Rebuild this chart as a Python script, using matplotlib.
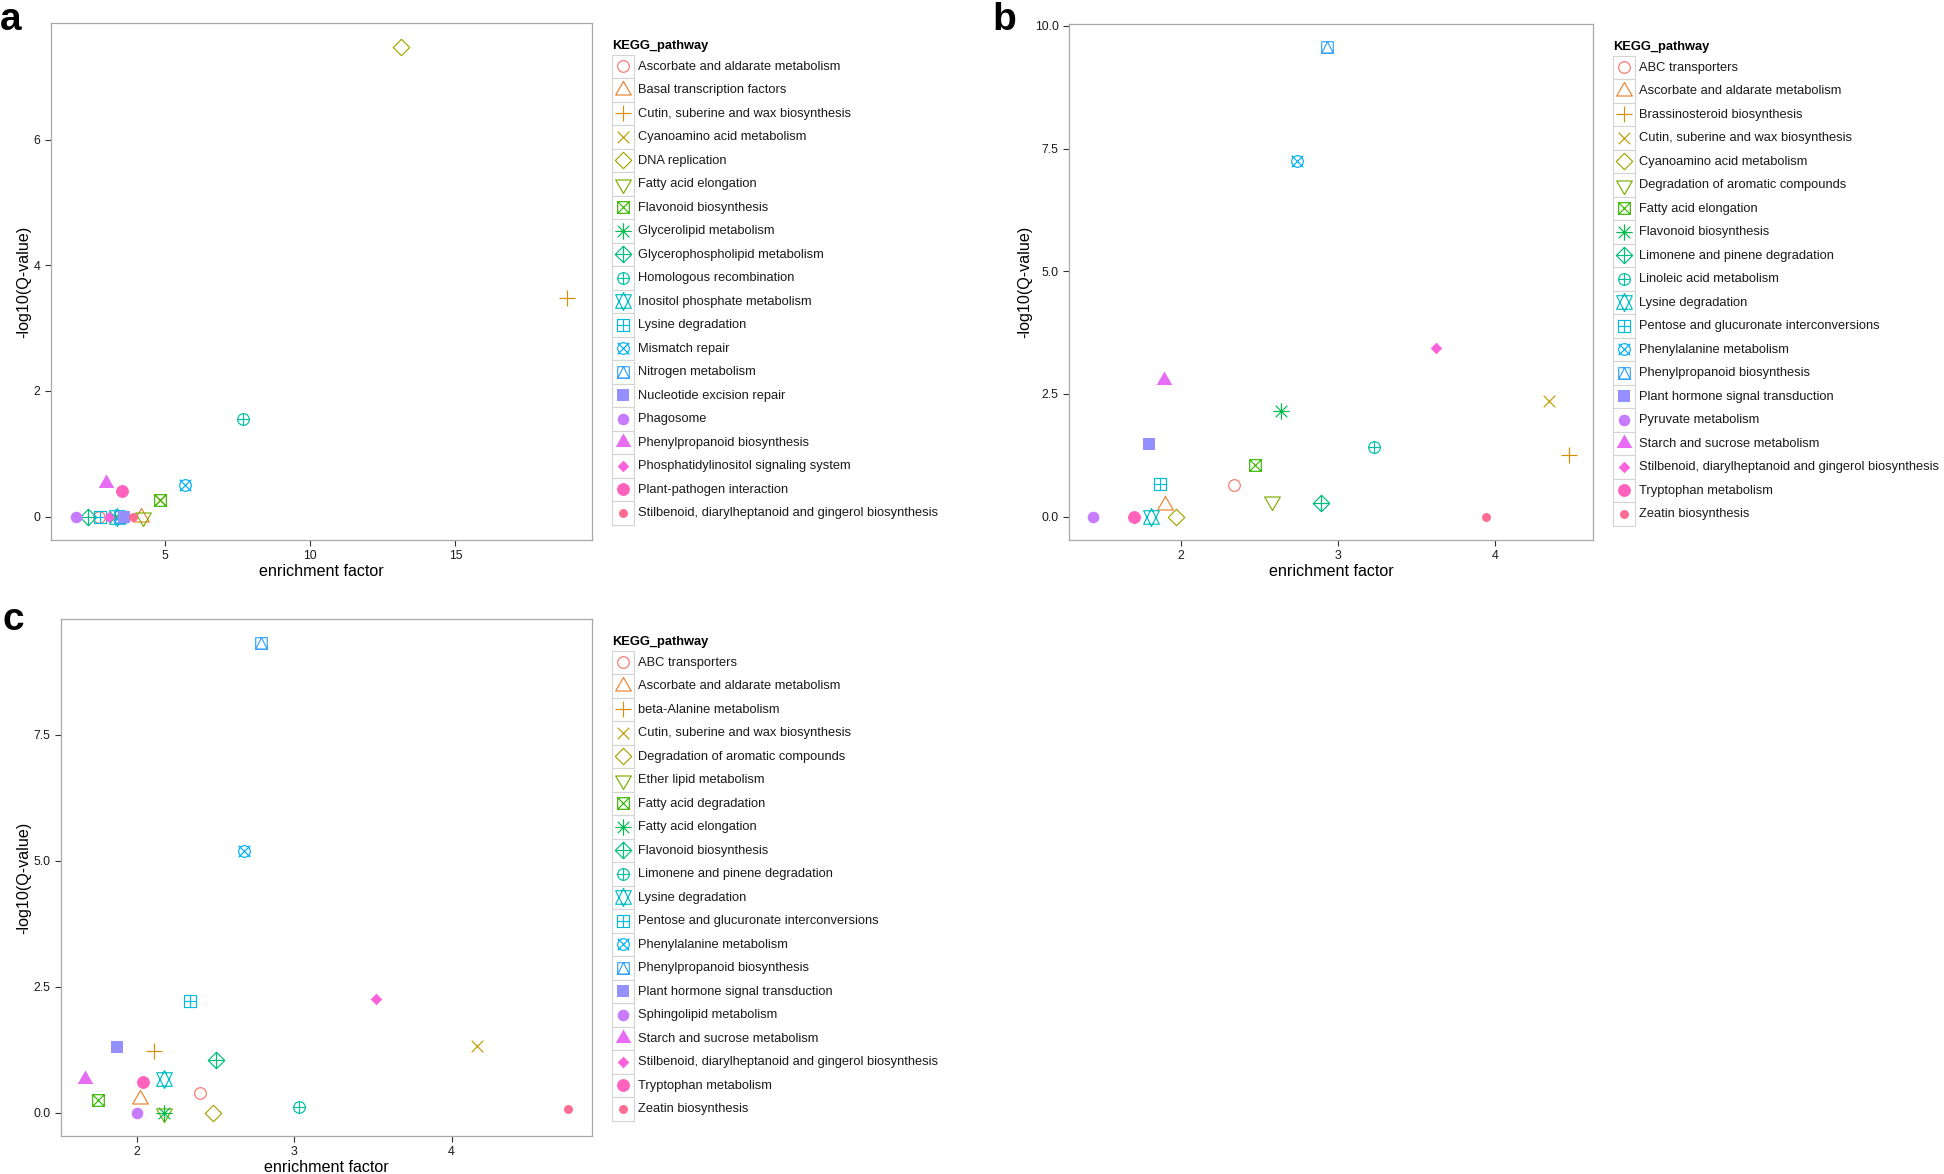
import numpy as np
import matplotlib
matplotlib.use("Agg")
import matplotlib.pyplot as plt
from matplotlib.path import Path
from matplotlib.patches import Rectangle

plt.rcParams['font.family'] = ['Liberation Sans', 'DejaVu Sans']

# ---------------- data ----------------
names_a = ["Ascorbate and aldarate metabolism", "Basal transcription factors",
           "Cutin, suberine and wax biosynthesis", "Cyanoamino acid metabolism",
           "DNA replication", "Fatty acid elongation", "Flavonoid biosynthesis",
           "Glycerolipid metabolism", "Glycerophospholipid metabolism",
           "Homologous recombination", "Inositol phosphate metabolism",
           "Lysine degradation", "Mismatch repair", "Nitrogen metabolism",
           "Nucleotide excision repair", "Phagosome", "Phenylpropanoid biosynthesis",
           "Phosphatidylinositol signaling system", "Plant-pathogen interaction",
           "Stilbenoid, diarylheptanoid and gingerol biosynthesis"]
ef_a = [2.73, 4.20, 18.85, 4.85, 13.12, 4.26, 4.83, 3.30, 2.37, 7.71,
        3.36, 2.78, 5.71, 3.45, 3.62, 1.94, 2.97, 3.09, 3.55, 3.91]
q_a = [0.0, 0.0, 3.48, 0.27, 7.49, 0.0, 0.26, 0.0, 0.0, 1.56,
       0.0, 0.0, 0.50, 0.0, 0.0, 0.0, 0.54, 0.0, 0.41, 0.0]

names_b = ["ABC transporters", "Ascorbate and aldarate metabolism",
           "Brassinosteroid biosynthesis", "Cutin, suberine and wax biosynthesis",
           "Cyanoamino acid metabolism", "Degradation of aromatic compounds",
           "Fatty acid elongation", "Flavonoid biosynthesis",
           "Limonene and pinene degradation", "Linoleic acid metabolism",
           "Lysine degradation", "Pentose and glucuronate interconversions",
           "Phenylalanine metabolism", "Phenylpropanoid biosynthesis",
           "Plant hormone signal transduction", "Pyruvate metabolism",
           "Starch and sucrose metabolism",
           "Stilbenoid, diarylheptanoid and gingerol biosynthesis",
           "Tryptophan metabolism", "Zeatin biosynthesis"]
ef_b = [2.34, 1.90, 4.47, 4.34, 1.97, 2.58, 2.47, 2.64, 2.89, 3.23,
        1.81, 1.87, 2.74, 2.93, 1.80, 1.44, 1.89, 3.62, 1.70, 3.94]
q_b = [0.64, 0.23, 1.26, 2.36, 0.0, 0.31, 1.05, 2.16, 0.27, 1.41,
       0.0, 0.67, 7.25, 9.56, 1.48, 0.0, 2.78, 3.44, 0.0, 0.0]

names_c = ["ABC transporters", "Ascorbate and aldarate metabolism",
           "beta-Alanine metabolism", "Cutin, suberine and wax biosynthesis",
           "Degradation of aromatic compounds", "Ether lipid metabolism",
           "Fatty acid degradation", "Fatty acid elongation", "Flavonoid biosynthesis",
           "Limonene and pinene degradation", "Lysine degradation",
           "Pentose and glucuronate interconversions", "Phenylalanine metabolism",
           "Phenylpropanoid biosynthesis", "Plant hormone signal transduction",
           "Sphingolipid metabolism", "Starch and sucrose metabolism",
           "Stilbenoid, diarylheptanoid and gingerol biosynthesis",
           "Tryptophan metabolism", "Zeatin biosynthesis"]
ef_c = [2.40, 2.02, 2.11, 4.16, 2.48, 2.17, 1.75, 2.17, 2.50, 3.03,
        2.17, 2.34, 2.68, 2.79, 1.87, 2.00, 1.67, 3.52, 2.04, 4.74]
q_c = [0.38, 0.26, 1.23, 1.33, 0.0, 0.0, 0.24, 0.0, 1.04, 0.10,
       0.66, 2.22, 5.19, 9.33, 1.30, 0.0, 0.67, 2.26, 0.60, 0.07]

xticks_a, yticks_a = [5, 10, 15], [0, 2, 4, 6]
xticks_b, yticks_b = [2, 3, 4], [0.0, 2.5, 5.0, 7.5, 10.0]
xticks_c, yticks_c = [2, 3, 4], [0.0, 2.5, 5.0, 7.5]

# ggplot hue palette for 20 levels
hue20 = ["#F8766D", "#EA8331", "#D89000", "#C09B00", "#A3A500", "#7CAE00", "#39B600",
         "#00BB4E", "#00BF7D", "#00C1A3", "#00BFC4", "#00BAE0", "#00B0F6", "#35A2FF",
         "#9590FF", "#C77CFF", "#E76BF3", "#FA62DB", "#FF62BC", "#FF6C91"]

# ---------------- R pch shapes 1..20 as paths (unit = symbol radius) ----------------
S2 = np.sqrt(2)
T0, T1, T2 = 1.5551203, 1.3467737, 0.7775602


def poly(pts):
    v = list(pts) + [pts[0]]
    c = [Path.MOVETO] + [Path.LINETO] * (len(pts) - 1) + [Path.CLOSEPOLY]
    return Path(v, c)


def seg(a, b):
    return Path([a, b], [Path.MOVETO, Path.LINETO])


def circ(r=1.0):
    p = Path.unit_circle()
    return Path(p.vertices * r, p.codes)


def comp(*ps):
    return Path.make_compound_path(*ps)


sq = poly([(-1, -1), (1, -1), (1, 1), (-1, 1)])
plus1 = comp(seg((-1, 0), (1, 0)), seg((0, -1), (0, 1)))
plus2 = comp(seg((-S2, 0), (S2, 0)), seg((0, -S2), (0, S2)))
times1 = comp(seg((-1, -1), (1, 1)), seg((-1, 1), (1, -1)))
tri_up = poly([(0, T0), (T1, -T2), (-T1, -T2)])
tri_dn = poly([(0, -T0), (T1, T2), (-T1, T2)])
diam2 = poly([(S2, 0), (0, S2), (-S2, 0), (0, -S2)])
yc11 = 0.5 * (T2 + T0)

shapes = {
    1: (circ(), False), 2: (tri_up, False), 3: (plus2, False), 4: (times1, False),
    5: (diam2, False), 6: (tri_dn, False), 7: (comp(sq, times1), False),
    8: (comp(times1, plus2), False), 9: (comp(diam2, plus2), False),
    10: (comp(circ(), plus1), False),
    11: (comp(poly([(0, -T0), (T1, yc11), (-T1, yc11)]),
              poly([(0, T0), (T1, -yc11), (-T1, -yc11)])), False),
    12: (comp(sq, plus1), False),
    13: (comp(circ(), times1), False),
    14: (comp(sq, poly([(0, 1), (1, -1), (-1, -1)])), False),
    15: (sq, True), 16: (circ(), True), 17: (tri_up, True),
    18: (poly([(1, 0), (0, 1), (-1, 0), (0, -1)]), True),
    19: (circ(), True), 20: (circ(2 / 3), True),
}

R_PT = 5.8 * 72 / 100   # symbol radius in points
LW = 0.85


def draw_point(ax, x, y, k, color, **kw):
    path, filled = shapes[k]
    ms = 2 * np.max(np.abs(path.vertices)) * R_PT
    if filled:
        mew = LW if k in (19, 20) else 0
        ax.plot([x], [y], linestyle='none', marker=path, ms=ms, mfc=color,
                mec=color, mew=mew, **kw)
    else:
        ax.plot([x], [y], linestyle='none', marker=path, ms=ms, mfc='none',
                mec=color, mew=LW, **kw)


# ---------------- figure ----------------
W, H = 1944, 1174
fig = plt.figure(figsize=(W / 100, H / 100), dpi=100)
fig.patch.set_facecolor('white')


def panel(rect_px, names, xs, ys, xticks, yticks, xlabels, ylabels):
    l, t, r, b = rect_px
    ax = fig.add_axes([l / W, 1 - b / H, (r - l) / W, (b - t) / H])
    for i in range(len(names)):
        draw_point(ax, xs[i], ys[i], i + 1, hue20[i], clip_on=False)
    xr = max(xs) - min(xs)
    yr = max(ys) - min(ys)
    ax.set_xlim(min(xs) - 0.05 * xr, max(xs) + 0.05 * xr)
    ax.set_ylim(min(ys) - 0.05 * yr, max(ys) + 0.05 * yr)
    ax.set_xticks(xticks, xlabels)
    ax.set_yticks(yticks, ylabels)
    for s in ax.spines.values():
        s.set_color('#a8a8a8')
        s.set_linewidth(0.9)
    ax.tick_params(direction='out', length=4.5, width=0.8, color='#333333',
                   labelsize=8.8, labelcolor='#1a1a1a', pad=3)
    ax.set_xlabel('enrichment factor', fontsize=11.6, labelpad=1.5)
    ax.set_ylabel('-log10(Q-value)', fontsize=11.6, labelpad=1.5)
    return ax


ax_a = panel((51, 23, 592, 540), names_a, ef_a, q_a, xticks_a, yticks_a,
             [str(v) for v in xticks_a], [str(v) for v in yticks_a])
ax_b = panel((1069, 24, 1593, 540), names_b, ef_b, q_b, xticks_b, yticks_b,
             [str(v) for v in xticks_b], ["%.1f" % v for v in yticks_b])
ax_c = panel((61, 619, 592, 1136), names_c, ef_c, q_c, xticks_c, yticks_c,
             [str(v) for v in xticks_c], ["%.1f" % v for v in yticks_c])

# overlay in pixel coordinates for legends and panel letters
lax = fig.add_axes([0, 0, 1, 1], zorder=-1)
lax.set_xlim(0, W)
lax.set_ylim(H, 0)
lax.axis('off')

KW, KH = 22.7, 23.5


def legend(names, x0, top0):
    lax.text(x0, top0 - 8.5, 'KEGG_pathway', fontsize=9.3, fontweight='bold',
             ha='left', va='center')
    for i, name in enumerate(names):
        top = top0 + i * KH
        lax.add_patch(Rectangle((x0, top), KW, KH, facecolor='white',
                                edgecolor='#d4d4d4', linewidth=0.8))
        draw_point(lax, x0 + KW / 2, top + KH / 2, i + 1, hue20[i])
        lax.text(x0 + 26.6, top + KH / 2 + 0.5, name, fontsize=9.3, ha='left',
                 va='center', color='#1a1a1a')


legend(names_a, 611.7, 54.5)
legend(names_b, 1612.7, 55.5)
legend(names_c, 611.7, 650.5)

for lbl, x, y in [('a', 0, 30), ('b', 992, 30), ('c', 2, 629.5)]:
    lax.text(x, y, lbl, fontsize=28, fontweight='bold', ha='left', va='baseline')

fig.savefig('out.png', dpi=100, facecolor='white')
